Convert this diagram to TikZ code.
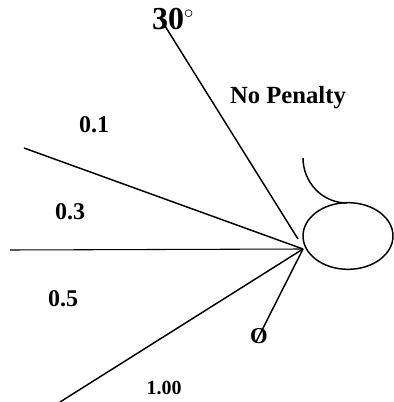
\documentclass[tikz,border=0pt]{standalone}
\usepackage{fontspec}
\setmainfont{Liberation Serif}
\usetikzlibrary{shapes.geometric}
\begin{document}
\begin{tikzpicture}[
    x=0.75pt, y=-0.75pt,
    ray/.style={draw=black, line width=1.1pt},
    lbl/.style={inner sep=0pt, font=\fontsize{18}{20}\bfseries\selectfont},
    biglbl/.style={inner sep=0pt, font=\fontsize{24}{28}\bfseries\selectfont},
    smalllbl/.style={inner sep=0pt, font=\fontsize{15}{17}\bfseries\selectfont}
]
\useasboundingbox (0,0) rectangle (393,402);

\coordinate (hub) at (303,249);
\coordinate (top) at (160,18);
\coordinate (topend) at (298,239);
\coordinate (upper) at (24,148);
\coordinate (mid) at (10,250);
\coordinate (lower) at (60,402);
\coordinate (stem) at (256,342);
\coordinate (hookstart) at (303,158);
\coordinate (hookend) at (347,203);

\node[ellipse, draw, line width=1.1pt, minimum width=67.5pt, minimum height=50pt, inner sep=0pt] (head) at (348,236) {};

\node[biglbl] (angle) at (168,19) {30};
\node[inner sep=0pt, font=\fontsize{22}{24}\selectfont] (degree) at (189,19) {$^{\circ}$};
\node[lbl, font=\fontsize{18.5}{20}\bfseries\selectfont] (nopenalty) at (288,98) {No Penalty};
\node[lbl] (a) at (94,125) {0.1};
\node[lbl] (b) at (70,212) {0.3};
\node[lbl] (c) at (63,299) {0.5};
\node[smalllbl] (d) at (164,388) {1.00};
\node[lbl, font=\fontsize{17}{19}\bfseries\selectfont] (zero) at (259,336) {O};

\draw[ray] (top) -- (topend);
\draw[ray] (upper) -- (hub);
\draw[draw=black, line width=0.8pt] (mid) -- (hub);
\draw[ray] (lower) -- (hub);
\draw[ray] (stem) -- (hub);
\draw[ray] (hookstart) .. controls (303,182) and (322,203) .. (hookend);
\end{tikzpicture}
\end{document}
